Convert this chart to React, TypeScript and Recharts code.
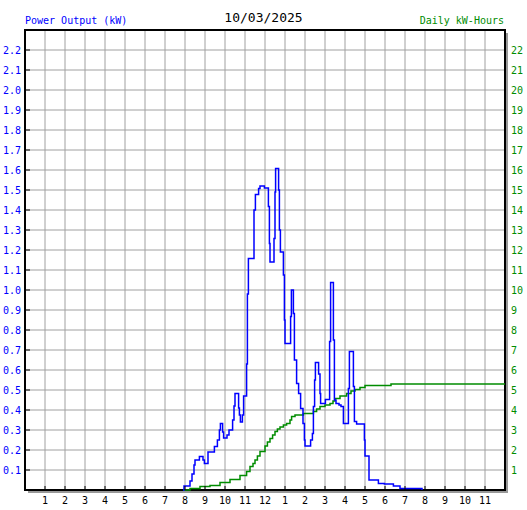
import React from "react";
import { LineChart, Line, XAxis, YAxis, CartesianGrid, ReferenceArea } from "recharts";

// power output (kW), step readings through the day
const powerHours = [
  7.9, 7.95, 8.25, 8.35, 8.45, 8.5, 8.72, 8.9, 8.97, 9.15, 9.47, 9.62, 9.72, 9.77, 9.88, 9.93,
  10.1, 10.2, 10.38, 10.45, 10.5, 10.68, 10.72, 10.77, 10.87, 10.93, 11.08, 11.12, 11.17, 11.45,
  11.52, 11.68, 11.75, 11.97, 12.17, 12.22, 12.25, 12.45, 12.5, 12.53, 12.68, 12.72, 12.77, 12.92,
  12.97, 13.0, 13.28, 13.32, 13.42, 13.47, 13.58, 13.68, 13.78, 13.9, 13.97, 14.0, 14.28, 14.37,
  14.42, 14.48, 14.52, 14.68, 14.75, 14.78, 15.02, 15.23, 15.28, 15.42, 15.47, 15.55, 15.7, 15.8,
  15.92, 16.17, 16.22, 16.42, 16.47, 16.58, 16.97, 17.0, 17.2, 17.67, 17.97, 18.42, 18.75, 19.85,
];
const powerKw = [
  0, 0.02, 0.045, 0.08, 0.125, 0.15, 0.167, 0.15, 0.133, 0.19, 0.217, 0.25, 0.3, 0.333, 0.29, 0.26,
  0.275, 0.3, 0.35, 0.42, 0.483, 0.41, 0.375, 0.34, 0.375, 0.47, 0.63, 0.98, 1.158, 1.4,
  1.478, 1.508, 1.52, 1.51, 1.417, 1.233, 1.14, 1.258, 1.49, 1.608, 1.5, 1.3, 1.19, 1.075,
  0.85, 0.733, 0.867, 1.0, 0.883, 0.65, 0.533, 0.483, 0.408, 0.333, 0.25, 0.22, 0.25, 0.283,
  0.417, 0.55, 0.637, 0.58, 0.483, 0.433, 0.453, 0.742, 1.037, 0.75, 0.45, 0.433, 0.425, 0.417,
  0.333, 0.508, 0.692, 0.517, 0.342, 0.33, 0.25, 0.17, 0.05, 0.033, 0.03, 0.02, 0.008, 0,
];

// cumulative daily energy (kWh)
const energyHours = [
  7.9, 8.25, 8.75, 9.25, 9.75, 10.25, 10.75, 11.08, 11.25, 11.4, 11.5, 11.62, 11.75, 12.0, 12.12,
  12.25, 12.38, 12.5, 12.62, 12.75, 12.92, 13.08, 13.25, 13.33, 13.5, 13.92, 14.42, 14.58, 14.75,
  15.0, 15.25, 15.4, 15.5, 15.75, 16.08, 16.3, 16.5, 16.75, 17.0, 18.3, 24,
];
const energyKwh = [
  0, 0.08, 0.17, 0.22, 0.37, 0.53, 0.72, 0.92, 1.17, 1.33, 1.5, 1.7, 1.92, 2.2, 2.4,
  2.58, 2.75, 2.92, 3.05, 3.15, 3.25, 3.33, 3.5, 3.67, 3.75, 3.83, 3.92, 4.05, 4.17,
  4.25, 4.33, 4.45, 4.58, 4.7, 4.83, 4.95, 5.03, 5.13, 5.23, 5.3, 5.3,
];

const hourTicks = Array.from({ length: 23 }, (_, i) => i + 1);
const kwTicks = Array.from({ length: 22 }, (_, i) => (i + 1) / 10);
const kwhTicks = Array.from({ length: 22 }, (_, i) => i + 1);

const BLUE = "#0000ff";
const GREEN = "#008c00";
const FONT = "'DejaVu Sans Mono', monospace";

const powerData = powerHours.map((h, i) => ({ h, v: powerKw[i] }));
const energyData = energyHours.map((h, i) => ({ h, v: energyKwh[i] }));

function HourTick({ x, y, payload }: any) {
  const h = payload.value;
  return (
    <g>
      <line x1={x} x2={x} y1={y} y2={y - 4} stroke="#000" strokeWidth={1} />
      <text x={x} y={y + 14} textAnchor="middle" fontFamily={FONT} fontSize={10} fill="#000">
        {h > 12 ? h - 12 : h}
      </text>
    </g>
  );
}

function KwTick({ x, y, payload }: any) {
  return (
    <g>
      <line x1={x} x2={x + 5} y1={y} y2={y} stroke="#000" strokeWidth={1} />
      <text x={x - 4} y={y + 4} textAnchor="end" fontFamily={FONT} fontSize={10} fill={BLUE}>
        {payload.value.toFixed(1)}
      </text>
    </g>
  );
}

function KwhTick({ x, y, payload }: any) {
  return (
    <text x={x + 6} y={y + 4} textAnchor="start" fontFamily={FONT} fontSize={10} fill={GREEN}>
      {payload.value}
    </text>
  );
}

function Frame({ x, y, width, height }: any) {
  return (
    <g>
      <path
        d={`M${x + width + 2},${y + 3} V${y + height + 2} H${x + 3}`}
        fill="none"
        stroke="#999"
        strokeWidth={2}
      />
      <rect x={x} y={y} width={width} height={height} fill="none" stroke="#000" strokeWidth={2} />
    </g>
  );
}

export default function App() {
  return (
    <div style={{ position: "absolute", left: 0, top: 0, width: 527, height: 510, background: "#fff" }}>
      <div style={{ position: "absolute", left: 25, top: 15, fontFamily: FONT, fontSize: 10, color: BLUE }}>
        Power Output (kW)
      </div>
      <div style={{ position: "absolute", left: 0, width: 527, top: 10, textAlign: "center", fontFamily: FONT, fontSize: 13, color: "#000" }}>
        10/03/2025
      </div>
      <div style={{ position: "absolute", right: 23, top: 15, fontFamily: FONT, fontSize: 10, color: GREEN }}>
        Daily kW-Hours
      </div>
      <LineChart width={527} height={510} margin={{ top: 30, right: 0, bottom: 0, left: 0 }}>
        <CartesianGrid yAxisId="kw" stroke="#a0a0a0" strokeWidth={1} />
        <XAxis
          dataKey="h"
          type="number"
          domain={[0, 24]}
          ticks={hourTicks}
          interval={0}
          height={20}
          tickSize={0}
          tickMargin={0}
          axisLine={false}
          tick={<HourTick />}
          allowDuplicatedCategory={false}
        />
        <YAxis
          yAxisId="kw"
          domain={[0, 2.3]}
          ticks={kwTicks}
          interval={0}
          width={25}
          tickSize={0}
          tickMargin={0}
          axisLine={false}
          tick={<KwTick />}
        />
        <YAxis
          yAxisId="kwh"
          orientation="right"
          domain={[0, 23]}
          ticks={kwhTicks}
          interval={0}
          width={22}
          tickSize={0}
          tickMargin={0}
          axisLine={false}
          tick={<KwhTick />}
        />
        <Line
          yAxisId="kwh"
          data={energyData}
          dataKey="v"
          type="stepAfter"
          stroke={GREEN}
          strokeWidth={1.5}
          dot={false}
          isAnimationActive={false}
        />
        <Line
          yAxisId="kw"
          data={powerData}
          dataKey="v"
          type="stepAfter"
          stroke={BLUE}
          strokeWidth={1.5}
          dot={false}
          isAnimationActive={false}
        />
        <ReferenceArea
          yAxisId="kw"
          x1={0}
          x2={24}
          y1={0}
          y2={2.3}
          ifOverflow="visible"
          shape={<Frame />}
        />
      </LineChart>
    </div>
  );
}
